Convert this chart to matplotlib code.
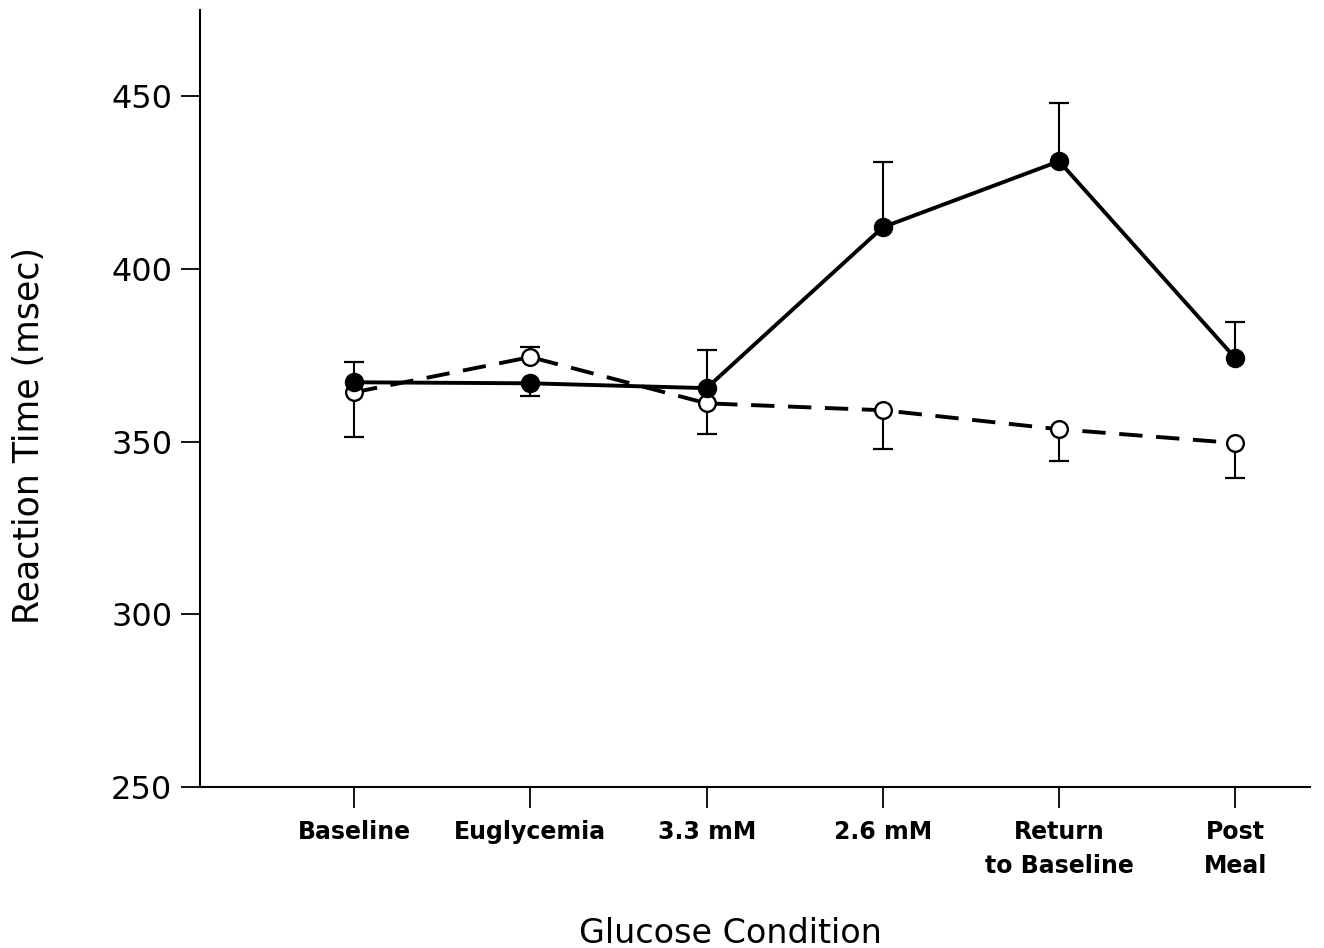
import matplotlib

matplotlib.use("Agg")
import matplotlib.pyplot as plt
import numpy as np

conditions = ["Baseline", "Euglycemia", "3.3 mM", "2.6 mM", "Return\nto Baseline", "Post\nMeal"]

# filled circles (solid line)
filled_mean = [367.2, 366.9, 365.5, 412.1, 431.2, 374.2]
filled_err = [5.8, 3.7, 11.0, 18.8, 16.8, 10.4]
filled_dir = [1, -1, 1, 1, 1, 1]  # +1 bar drawn up, -1 down

# open circles (dashed line)
open_mean = [364.3, 374.5, 361.1, 359.1, 353.6, 349.6]
open_err = [13.0, 2.9, 8.9, 11.3, 9.2, 10.2]
open_dir = [-1, 1, -1, -1, -1, -1]


def draw_one_sided_errors(ax, x, mean, err, direction):
    # only one half of each error bar is drawn, like the original figure
    mean = np.asarray(mean)
    ends = mean + np.asarray(err) * np.asarray(direction)
    ax.vlines(x, mean, ends, color="black", linewidth=1.5, zorder=2)
    ax.plot(x, ends, linestyle="none", marker="_", markersize=14,
            markeredgewidth=1.6, color="black", zorder=2)


def main():
    fig = plt.figure(figsize=(13.24, 9.48), dpi=100)
    ax = fig.add_axes([200 / 1324, 161 / 948, 1110 / 1324, 777 / 948])
    x = np.arange(len(conditions))

    draw_one_sided_errors(ax, x, open_mean, open_err, open_dir)
    draw_one_sided_errors(ax, x, filled_mean, filled_err, filled_dir)

    ax.plot(x, open_mean, color="black", linewidth=2.8, dashes=(6, 3.5), zorder=3)
    ax.plot(x, filled_mean, color="black", linewidth=2.8, zorder=4)
    ax.plot(
        x, open_mean, linestyle="none", marker="o", markersize=12,
        markerfacecolor="white", markeredgecolor="black", markeredgewidth=1.7, zorder=5,
    )
    ax.plot(
        x, filled_mean, linestyle="none", marker="o", markersize=13,
        markerfacecolor="black", markeredgecolor="black", zorder=6,
    )

    ax.set_xlim(-0.875, 5.424)
    ax.set_ylim(250, 475)
    ax.set_yticks([250, 300, 350, 400, 450])
    ax.set_xticks(x)
    ax.set_xticklabels(conditions, fontsize=17, fontweight="bold",
                       family="DejaVu Sans", linespacing=1.5, va="top")
    for label in ax.get_yticklabels():
        label.set_fontsize(23)
        label.set_family("DejaVu Sans")

    for side in ["top", "right"]:
        ax.spines[side].set_visible(False)
    for side in ["left", "bottom"]:
        ax.spines[side].set_linewidth(1.5)

    ax.tick_params(axis="y", direction="out", length=14, width=1.3, pad=6)
    ax.tick_params(axis="x", direction="out", length=15, width=1.3, pad=9)

    ax.set_ylabel("Reaction Time (msec)", fontsize=25, family="DejaVu Sans")
    ax.yaxis.set_label_coords(-0.154, 0.452)
    ax.yaxis.label.set_va("center")
    ax.set_xlabel("Glucose Condition", fontsize=24, family="DejaVu Sans")
    ax.xaxis.set_label_coords(0.478, -0.188)
    ax.xaxis.label.set_va("center")

    fig.savefig("out.png", dpi=100)


if __name__ == "__main__":
    main()
